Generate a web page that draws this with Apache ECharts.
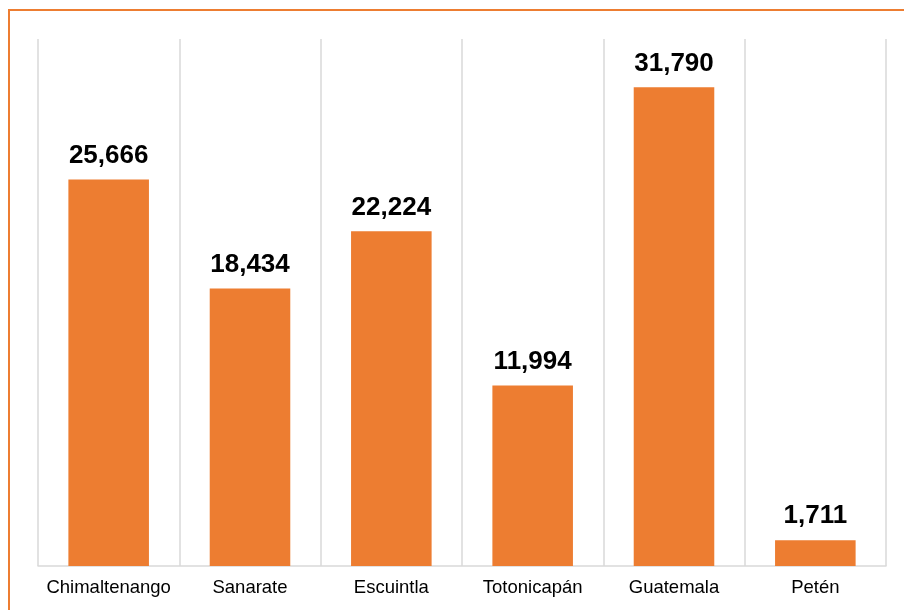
<!DOCTYPE html>
<html>
<head>
<meta charset="utf-8">
<script src="https://cdn.jsdelivr.net/npm/echarts@6/dist/echarts.min.js"></script>
<style>
html,body{margin:0;padding:0;background:#fff;}
#c{width:904px;height:610px;}
</style>
</head>
<body>
<div id="c"></div>
<script>
const categories = ['Chimaltenango', 'Sanarate', 'Escuintla', 'Totonicapán', 'Guatemala', 'Petén'];
const values = [25666, 18434, 22224, 11994, 31790, 1711];

const FONT = "'Liberation Sans', Arial, sans-serif";
const chart = echarts.init(document.getElementById('c'), null, {renderer: 'canvas'});
chart.setOption({
  animation: false,
  graphic: [{
    type: 'rect',
    shape: {x: 9, y: 10, width: 920, height: 640},
    style: {fill: 'none', stroke: '#ED7D31', lineWidth: 2},
    silent: true
  }],
  grid: {left: 38, right: 18, top: 39, bottom: 44, containLabel: false},
  xAxis: {
    type: 'category',
    data: categories,
    axisLine: {show: true, lineStyle: {color: '#D9D9D9', width: 1.5}},
    axisTick: {show: false, interval: 0},
    splitLine: {show: true, interval: 0, lineStyle: {color: '#D9D9D9', width: 1.5}},
    axisLabel: {interval: 0, hideOverlap: false, color: '#000', fontSize: 18.5, fontFamily: FONT, margin: 12}
  },
  yAxis: {
    type: 'value',
    min: 0,
    max: 35000,
    show: false,
    splitLine: {show: false}
  },
  series: [{
    type: 'bar',
    data: values,
    barWidth: '57%',
    itemStyle: {color: '#ED7D31'},
    label: {
      show: true,
      position: 'top',
      distance: 11,
      color: '#000',
      fontSize: 26,
      fontWeight: 'bold',
      fontFamily: FONT,
      formatter: p => p.value.toLocaleString('en-US')
    }
  }]
});
</script>
</body>
</html>
